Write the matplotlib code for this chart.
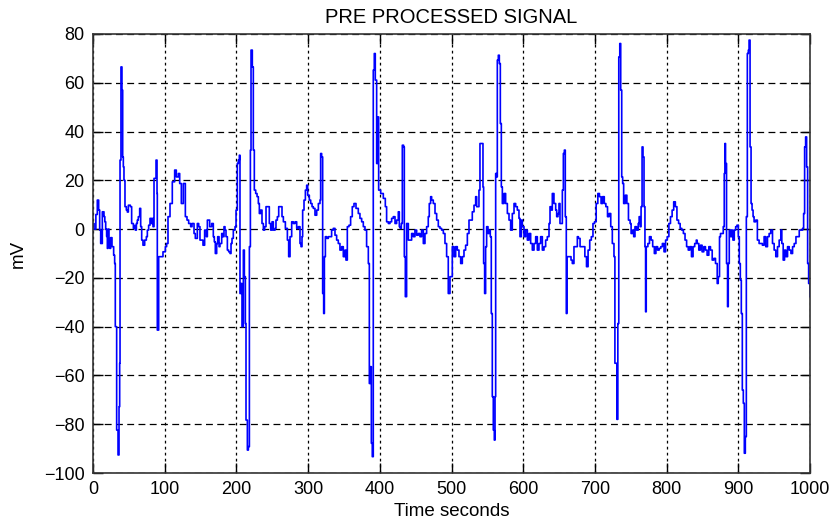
import matplotlib
matplotlib.use("Agg")
import matplotlib.pyplot as plt

# ---- data ----
time_s = [
    0, 1.5, 4, 6.0, 7.9, 9.3, 10.7, 13.0, 15.3, 16.5, 17.7, 19, 20, 21, 22.3, 23.5, 24.6, 26.5, 28.8, 30.2,
    31.1, 32, 33, 34.9, 36.3, 37.2, 37.7, 39, 40.4, 41.4, 42.3, 43.2, 44.6, 46.5, 47.9, 49.3, 52.1, 53.9,
    56.3, 58, 59, 60.5, 61.8, 63.2, 65.1, 66.5, 67.9, 69.7, 72.1, 74.4, 75.8, 77.6, 79.5, 81.4, 82.8, 83.7,
    85.1, 87.9, 89.3, 89.7, 91.6, 95.3, 97.6, 100.9, 102.7, 104.6, 107.4, 110.6, 113.9, 116.2, 119, 120.9,
    123.2, 126, 127.4, 128.8, 131.1, 133.4, 136.2, 138.1, 140.9, 142.7, 145.5, 147.4, 149.2, 153.4, 155.7,
    158.1, 159.5, 162.7,
    165.5, 167.8, 169.2, 170.6, 172.5, 173.9, 175.8, 177.1, 179.5, 180.9, 182.7, 184.1, 185.5, 187.4, 189.2,
    191.1, 192.5, 193.9, 195.7, 198.1, 199.5, 201.3, 202.7, 204.1, 205, 206.4, 207.8, 209.7, 211.1, 212.5,
    213.4, 215.3, 216.7, 218.1, 219.5, 220.4, 222.2, 223.6, 225, 226.9, 228.8, 230.6, 232, 233.9, 235.7,
    237.6, 239.4, 241.3, 244.6, 245.9, 247.8, 249.7, 251.5, 253.9, 255.2, 257.1, 259, 261.8, 263.6, 265.5,
    268.3, 271.1, 272.9, 274.8, 277.1, 279.4, 281.8, 284.1, 286.4, 288.7, 290.1, 291.5, 292.4, 294.3, 296.2,
    298, 299.4, 301.7, 303.6, 305.5, 307.3, 309.6, 312, 314.3, 316.6, 317.5, 318.9, 320.3, 321.7, 322.7,
    324.1, 325.9, 328.2,
    330.5, 332.8, 335.1, 337.5, 339.8, 342.1, 344.4, 346.8, 349.1, 351.4, 352.8, 354.7, 357, 359.3, 361.6,
    364, 366.8, 370, 372.3, 374.7, 377, 379.3, 381.6, 384, 385.4, 386.8, 388.2, 389.5, 390.9, 392.3, 393.7,
    395.6, 397, 398.4, 399.8, 401.2, 404.9, 407.7, 409.5, 411.9, 414.2, 416.5, 418.8, 421.2, 423.5, 425.8,
    427.2, 428.6, 430, 431.4, 433.2, 434.2, 435.6, 437.4, 439.8, 442.1, 444.4, 446.7, 449, 451.4, 453.7,
    456, 458.3, 460.7, 463, 465.3, 467.6, 469, 470.9, 472.3, 474.6, 477, 479.3, 481.6, 483.9, 486.2, 488.6,
    490.9, 493.2, 495.5, 497.9,
    501.1, 503.5, 505.8, 508.1, 510.4, 512.8, 515.1, 517.4, 519.7, 522.1, 524.4, 526.7, 529, 531.4, 533.7,
    535.1, 537, 538.3, 539.7, 542.1, 543.9, 544.8, 546.2, 547.6, 549, 550.9, 552.3, 554.1, 555.5, 556.9,
    558.3, 559.7, 560.7, 561.6, 563, 563.9, 565.3, 566.7, 568.1, 569.5, 570.9, 573.2, 575.5, 577.9, 580.2,
    582.5, 584.8, 587.2, 589.5, 591.8, 594.1, 595.5, 597.4, 598.8, 601.1, 603.4, 605.8, 608.1, 610.4, 612.7,
    615.1, 617.4, 619.7, 622, 624.3, 626.7, 629, 631.3, 633.6, 636, 637.4, 639.2, 640.6, 642.9, 645.3, 646.7,
    648.5, 649.9, 651.3, 653.2, 654.6, 656, 657.4, 658.7, 660.1, 661.1, 662.9, 664.8, 666.7, 668.5, 670.8,
    673.2, 675.5,
    677, 679.3, 681.5, 683.8, 686, 688.3, 690.5, 692.8, 695, 697.3, 699.5, 701.8, 704.1, 706.3, 708.6, 710.8,
    713.1, 715.3, 717.6, 719.8, 722.1, 724.3, 726.6, 727.9, 729.3, 730.6, 732, 733.3, 734.7, 736, 737.4,
    738.7, 740.1, 742.3, 744.6, 746.8, 749.1, 750.5, 752.3, 754.1, 755.9, 758.1, 760.4, 761.7, 763.1, 764.4,
    765.8, 767.1, 768.5, 769.8, 770.7, 771.6, 773.9, 776.1, 778.4, 780.6, 782.9, 785.1, 787.4, 789.6, 791.9,
    794.1, 796.4, 798.6, 800.9, 803.2, 805.4, 807.7, 809.9, 812.2, 814.4, 816.7, 818.9, 821.2, 823.4, 825.7,
    827.9, 830.2, 832.4, 834.7, 836.9, 839.2, 841.4,
    842.5, 844.9, 847.2, 849.5, 851.9, 854.2, 856.5, 858.9, 861.2, 863.6, 865.9, 868.2, 870.6, 872, 873.8,
    875.2, 877.6, 879, 880.4, 881.3, 882.2, 883.6, 885, 886, 887.4, 889.3, 890.7, 892.5, 894.4, 896.3, 898.1,
    900, 901.4, 902.8, 904.2, 905.6, 907, 908.4, 909.8, 911.2, 912.6, 914, 915, 916.4, 917.8, 919.2, 920.6,
    922, 924.3, 926.6, 929, 931.3, 933.6, 936, 938.3, 940.7, 943, 945.3, 947.7, 950, 952.3, 954.7, 957,
    959.3, 960.7, 962.6, 964.5, 966.4, 968.7, 971, 973.4, 975.7, 978, 980.4, 982.7, 985, 987.4, 989.7,
    991.1, 992.5, 993.9, 995.3, 996.7, 998.1, 1000,
]

signal_mv = [
    2.3, 0, 6, 11.9, 7.8, -0.4, -5.9, 7.1, 5.1, 3, 0, -3, -7.9, 0, -4.5, -7.9, -3.5, -7.2, -10.7, -14.1,
    -40, -40, -82.4, -92.6, -72.8, -55, 28.3, 66.5, 57, 29.6, 25.5, 20, 9.2, 7.8, 7, 9.8, 9.2, 2.3,
    0.3, 1.5, -0.4, 2.3, 3.7, 5.1, 8.5, 1, -4.5, -6.6, -4.5, -3.1, -0.4, 1.6, 4.4, 2.3, 4.4, 1,
    20.8, 28.3, 14.6, -41.4, -11.3, -11.3, -9.3, -7.2, -5.9, 5.1, 10.5, 19.4, 24.2, 21.4, 22.8, 18.7,
    10.5, 18.7, 18.7, 5.1, 3.7, 2.3, 1, 2.3, -1.8, -3.8, 2.3, 1, -4.5, -6.6, -0.4,
    -3.1, 3.7, 1,
    2.3, -3.1, -5.2, -10, -5.9, -3.1, -7.2, -5.9, -1.8, -3.1, 1, -0.4, -3.1, -8.6, -9.3,
    -10, -5.9, -3.8, -0.4, 1, 7.8, 26.9, 28.3, 30.3, -26.4, -22.3, -40, -8.6, -19.5, -38.7,
    -78.3, -90.6, -89.2, -7.2, 32.4, 73.4, 66.5, 32.4, 16, 14.6, 13.3, 10.5, 6.4, 7.8, 2.3,
    -0.4, 1, 9.2, 9.2, 2.3, -0.4, 3, -0.4, 0.3, 3.7, 5.1, 9.2, 9.2, 5.1, 3,
    0.3, -4.5, -11.3, -3.1, 3, 2.3, 3, 0.3, 1, -5.9, -7.2, -3.1, 7.8, 11.9, 16,
    18, 13.9, 11.9, 10.5, 9.2, 8.5, 5.7, 7.8, 10.5, 11.9, 31, 29.6, -26.4, -34.6, -11.3,
    -3.1, -3.8, -3.1,
    -3.1, -0.4, 0.3, -2.5, -4.5, -5.9, -8.6, -7.2, -11.3, -8.6, -12.7, 1, 1.6, 5.1, 9.2,
    10.5, 8.5, 6.4, 4.4, 3, 1, -0.4, -7.2, -14.1, -63.3, -56.4, -87.8, -93.3, 65.2, 72, 61.1,
    26.9, 46, 16, 16, 14.6, 12.6, 9.2, 3, 2.3, 3, 4.4, 5.1, 2.3, 3.7, 7.1,
    1, 0.3, 2.3, 34.4, 33.7, -11.3, -27.7, 2.3, -4.5, -4.5, -1.8, -3.1, -0.4, -2.5, -1.8,
    -3.1, -0.4, -5.9, -1.8, 1, 5.1, 10.5, 13.3, 11.9, 10.5, 6.4, 3.7, 1, 0.3, -0.4, -1.8,
    -5.9, -11.3, -26.4, -19.5,
    -7.2, -11.3, -7.2, -8.6, -11.3, -14.1, -11.3, -8.6, -6.6, -1.8, 3.7, 3.7, 7.1, 9.8, 13.3,
    9.2, 9.2, 16, 35.1, 35.1, 17.3, -14.1, -26.4, -7.2, 1, -1.8, -0.4, -3.1, -34.6, -68.7,
    -82.4, -86.5, -68.7, 22.8, 21.4, 69.3, 71.3, 67.9, 43.3, 17.3, 10.5, 14.6, 10.5, 6.4, 3.7,
    -0.4, 6.4, 10.5, 9.2, 7.8, 4.4, -3.1, 3.7, 1, -3.1, -0.4, -4.5, -1.8, -5.9, -8.6,
    -5.9, -3.1, -8.6, -5.9, -3.1, -8.6, -7.2, -4.5, -3.1, 2.3, 9.2, 7.8, 14.6, 10.5, 7.8, 5.1,
    6.4, 10.5, 2.3, 2.3, 16, 31, 32.4, 5.1, -34.6, -11.3, -11.3, -11.3, -12.7, -14.1, -7.2,
    -7.2, -3.1,
    -3.8, -7.2, -7.2, -7.2, -11.3, -15.4, -8.6, -4.5, -3.1, 2.3, 3, 10.5, 14.6, 13.3, 10.5, 13.3,
    10.5, 9.2, 5.1, 6.4, 1, -5.9, -11.3, -55, -55, -78, -38.7, 70.6, 76.1, 57, 21.4,
    18.7, 10.5, 13.9, 10.5, 3.7, 2.3, -1.8, -0.4, -3.1, 1, -0.4, 2.3, 5.1, 1, 9.2,
    33.7, 29.6, 9.2, -7.2, -33.9, -7.2, -5.9, -3.1, -4.5, -7.2, -10, -7.2, -8.6, -7.9, -7.2,
    -5.9, -9.3, -4.5, -3.1, 2.3, 5.1, 7.8, 11.2, 9.2, 3.7, 2.3, 0.3, -0.4, -1.8, -4.5,
    -7.2, -8.6, -7.2, -11.3, -7.2, -5.9, -4.5,
    -5.9, -8.6, -6.6, -9.3, -7.2, -8.6, -10.7, -7.2, -8.6, -12.7, -12, -14.1, -22.3, -19.5, -3.1,
    -1.8, -1.8, 1, 22.8, 35.1, 26.9, -14.1, -31.8, -14.1, -0.4, -3.1, -0.4, -4.5, -0.4, 1, 1.6,
    -3.1, -14.1, -20.9, -34.6, -66, -71.4, -91.9, -85.1, 5.1, 72, 73.4, 77.5, 33.7, 10.5, 7.8, 5.1,
    3, 3.7, -4.5, -5.9, -5.9, -6.6, -3.1, -7.2, -3.1, -1.8, -0.4, -5.9, -8.6, -11.3, -7.2, -4.5,
    -0.4, -5.9, -12.7, -8.6, -11.3, -7.2, -8.6, -10, -7.2, -5.9, -3.1, -3.1, -0.4, -0.4, 0.3,
    6.4, 33.7, 37.8, 25.5, -14.1, -22.3, -27.7,
]

x_ticks = [0, 100, 200, 300, 400, 500, 600, 700, 800, 900, 1000]
y_ticks = [-100, -80, -60, -40, -20, 0, 20, 40, 60, 80]
title_text = "PRE PROCESSED SIGNAL"
x_label = "Time seconds"
y_label = "mV"

# ---- figure ----
plt.rcParams['font.family'] = ['Liberation Sans', 'DejaVu Sans']
fig = plt.figure(figsize=(8.38, 5.20), dpi=100)
ax = fig.add_axes([93 / 838, 1 - 473 / 520, (810 - 93) / 838, (473 - 34) / 520])

ax.plot(time_s, signal_mv, color='#0000ff', linewidth=1.2, drawstyle='steps-post')

ax.set_xlim(0, 1000)
ax.set_ylim(-100, 80)
ax.set_xticks(x_ticks)
ax.set_yticks(y_ticks)

ax.xaxis.grid(True, color='black', linestyle=(0, (2.2, 2.6)), linewidth=0.9)
ax.yaxis.grid(True, color='black', linestyle=(0, (5.5, 3.5)), linewidth=0.9)
ax.set_axisbelow(True)

ax.tick_params(direction='in', length=7, width=1, top=True, right=True,
               labelsize=13, colors='black', pad=6)
for s in ax.spines.values():
    s.set_linewidth(1.2)
    s.set_color('#333333')

ax.set_title(title_text, fontsize=14.5, pad=8)
ax.set_xlabel(x_label, fontsize=13.5, labelpad=3)
ax.set_ylabel(y_label, fontsize=13.5, labelpad=12)

fig.savefig("out.png", dpi=100)
